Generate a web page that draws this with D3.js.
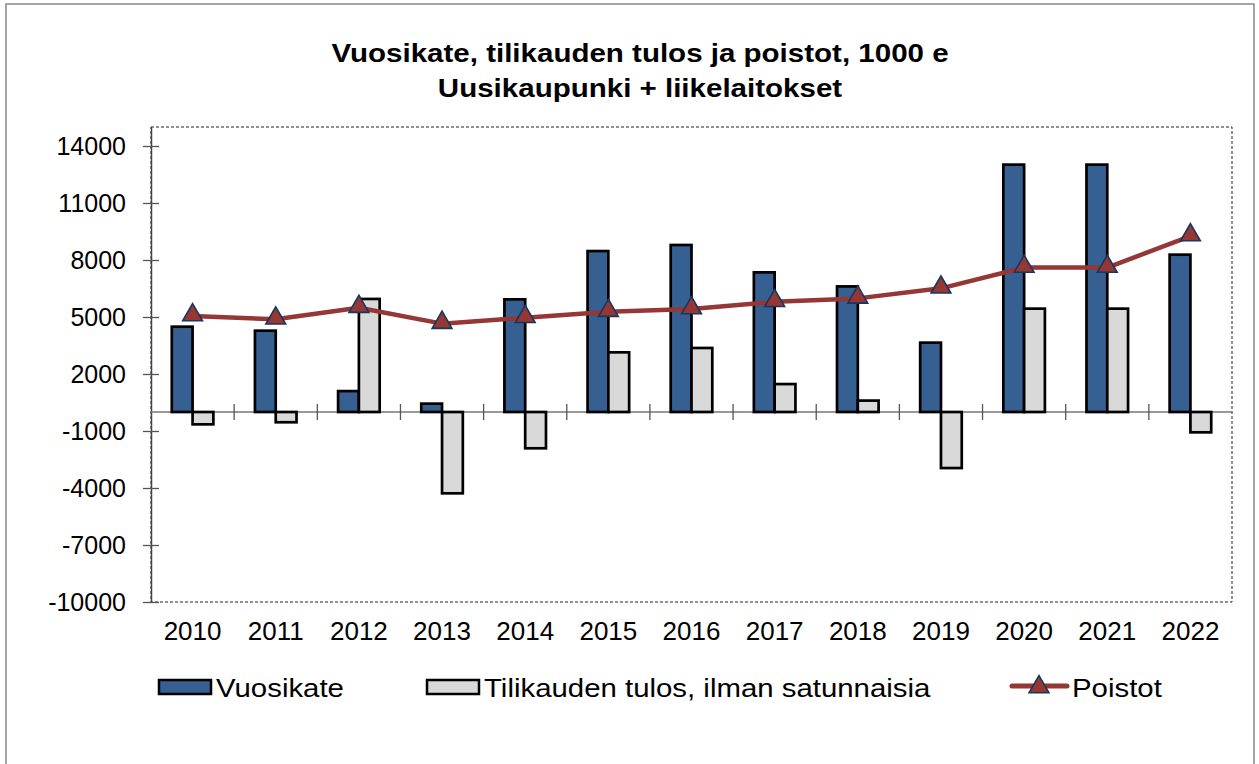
<!DOCTYPE html>
<html>
<head>
<meta charset="utf-8">
<script src="https://cdn.jsdelivr.net/npm/d3@7"></script>
<style>
    body { margin: 0; background: #fff; }
    svg { display: block; font-family: "Liberation Sans", Arial, sans-serif; }
</style>
</head>
<body>
<svg id="chart" width="1259" height="764"></svg>
<script>
const years = ['2010', '2011', '2012', '2013', '2014', '2015', '2016', '2017', '2018', '2019', '2020', '2021', '2022'];
const vuosikate = [4490, 4280, 1100, 440, 5930, 8470, 8790, 7350, 6610, 3650, 13020, 13020, 8280];
const tilikausi = [-650, -540, 5950, -4280, -1910, 3140, 3370, 1470, 600, -2950, 5440, 5440, -1070];
const poistot = [5050, 4880, 5490, 4650, 4960, 5280, 5420, 5800, 5980, 6510, 7600, 7600, 9260];
const yTicks = [-10000, -7000, -4000, -1000, 2000, 5000, 8000, 11000, 14000];
const seriesNames = ['Vuosikate', 'Tilikauden tulos, ilman satunnaisia', 'Poistot'];

const blue = '#376092', grey = '#d9d9d9', red = '#953735', navy = '#17375e';

const svg = d3.select('#chart');

// the original text is drawn a bit wider than Liberation Sans
function stretch(sel, k) {
    sel.each(function() {
        const w = this.getComputedTextLength();
        d3.select(this).attr('textLength', w * k).attr('lengthAdjust', 'spacingAndGlyphs');
    });
}

// chart border, open at the bottom
svg.append('rect')
    .attr('x', 6).attr('y', 4)
    .attr('width', 1248).attr('height', 820)
    .attr('fill', 'none').attr('stroke', '#888').attr('stroke-width', 1.5);

// title
const title = svg.append('g')
    .attr('text-anchor', 'middle')
    .attr('font-size', 26).attr('font-weight', 'bold');
title.append('text').attr('x', 640).attr('y', 62).text('Vuosikate, tilikauden tulos ja poistot, 1000 e');
title.append('text').attr('x', 640).attr('y', 97).text('Uusikaupunki + liikelaitokset');
stretch(title.selectAll('text'), 1.135);

const plotL = 151, plotR = 1232, plotT = 127, plotB = 602;

const x = d3.scaleBand().domain(years).range([plotL, plotR]);
const y = d3.scaleLinear().domain([-10000, 15000]).range([plotB, plotT]);

// plot area, dashed
svg.append('rect')
    .attr('x', plotL).attr('y', plotT)
    .attr('width', plotR - plotL).attr('height', plotB - plotT)
    .attr('fill', 'none').attr('stroke', '#222').attr('stroke-width', 1)
    .attr('stroke-dasharray', '3,2');

// y axis with crossing ticks
const yAxis = d3.axisLeft(y).tickValues(yTicks).tickSize(0).tickPadding(25)
    .tickFormat(d => String(d));
const gy = svg.append('g').attr('transform', `translate(${plotL},0)`).call(yAxis);
gy.select('.domain').attr('stroke', '#444').attr('stroke-width', 1.5);
gy.selectAll('.tick text').attr('font-size', 25).attr('fill', '#000')
    .attr('font-family', '"Liberation Sans", Arial, sans-serif');
gy.selectAll('.tick').append('line')
    .attr('x1', -8).attr('x2', 8).attr('stroke', '#555').attr('stroke-width', 1.3);

// category labels
const xAxis = d3.axisBottom(x).tickSize(0).tickPadding(20);
const gx = svg.append('g').attr('transform', `translate(0,${plotB})`).call(xAxis);
gx.select('.domain').remove();
gx.selectAll('.tick text').attr('font-size', 26).attr('fill', '#000')
    .attr('font-family', '"Liberation Sans", Arial, sans-serif');

// zero line and category ticks
const y0 = y(0);
svg.append('line')
    .attr('x1', plotL).attr('x2', plotR).attr('y1', y0).attr('y2', y0)
    .attr('stroke', '#777').attr('stroke-width', 1.3);
svg.append('g').selectAll('line')
    .data(years.slice(1))
    .join('line')
    .attr('x1', d => x(d)).attr('x2', d => x(d))
    .attr('y1', y0 - 8).attr('y2', y0 + 8)
    .attr('stroke', '#555').attr('stroke-width', 1.3);

// bars
const inner = d3.scaleBand().domain([0, 1]).range([0, x.bandwidth()]).paddingOuter(1).paddingInner(0);
const barData = [];
years.forEach((yr, i) => {
    barData.push({yr: yr, s: 0, v: vuosikate[i]});
    barData.push({yr: yr, s: 1, v: tilikausi[i]});
});
svg.append('g').selectAll('rect')
    .data(barData)
    .join('rect')
    .attr('x', d => x(d.yr) + inner(d.s))
    .attr('width', inner.bandwidth())
    .attr('y', d => y(Math.max(0, d.v)))
    .attr('height', d => Math.abs(y(d.v) - y0))
    .attr('fill', d => d.s === 0 ? blue : grey)
    .attr('stroke', '#000').attr('stroke-width', 2.7);

// poistot line
const line = d3.line()
    .x((d, i) => x(years[i]) + x.bandwidth() / 2)
    .y(d => y(d));
svg.append('path')
    .datum(poistot)
    .attr('d', line)
    .attr('fill', 'none').attr('stroke', red).attr('stroke-width', 4.5)
    .attr('stroke-linejoin', 'round');

const tri = d3.symbol().type(d3.symbolTriangle).size(170);
svg.append('g').selectAll('path')
    .data(poistot)
    .join('path')
    .attr('d', tri)
    .attr('transform', (d, i) => `translate(${x(years[i]) + x.bandwidth() / 2},${y(d) - 1})`)
    .attr('fill', red).attr('stroke', navy).attr('stroke-width', 1.6);

// legend
const lg = svg.append('g').attr('font-size', 26);
lg.append('rect').attr('x', 159).attr('y', 680).attr('width', 52).attr('height', 14)
    .attr('fill', blue).attr('stroke', '#000').attr('stroke-width', 2.5);
lg.append('text').attr('x', 216).attr('y', 697).text(seriesNames[0]);
lg.append('rect').attr('x', 427).attr('y', 680).attr('width', 52).attr('height', 14)
    .attr('fill', grey).attr('stroke', '#000').attr('stroke-width', 2.5);
lg.append('text').attr('x', 484).attr('y', 697).text(seriesNames[1]);
lg.append('line').attr('x1', 1012).attr('x2', 1067).attr('y1', 686).attr('y2', 686)
    .attr('stroke', red).attr('stroke-width', 5).attr('stroke-linecap', 'round');
lg.append('path').attr('d', tri)
    .attr('transform', 'translate(1039,687)')
    .attr('fill', red).attr('stroke', navy).attr('stroke-width', 1.6);
lg.append('text').attr('x', 1072).attr('y', 697).text(seriesNames[2]);
stretch(lg.selectAll('text'), 1.13);
</script>
</body>
</html>
